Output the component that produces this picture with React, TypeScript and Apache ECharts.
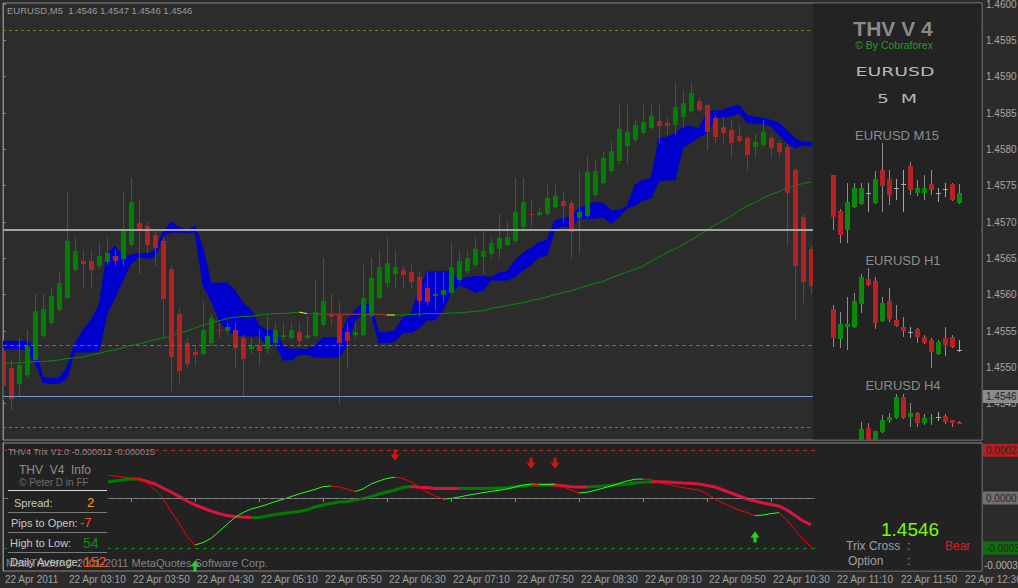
import React, { useEffect, useRef } from "react";
import * as echarts from "echarts";

// ---------------- DATA ----------------
const timeLabels = [
  "22 Apr 2011", "22 Apr 03:10", "22 Apr 03:50", "22 Apr 04:30", "22 Apr 05:10", "22 Apr 05:50",
  "22 Apr 06:30", "22 Apr 07:10", "22 Apr 07:50", "22 Apr 08:30", "22 Apr 09:10", "22 Apr 09:50",
  "22 Apr 10:30", "22 Apr 11:10", "22 Apr 11:50", "22 Apr 12:30",
];

// EURUSD M5 candles: [open, high, low, close]
const m5Candles: number[][] = [
  [1.45522, 1.45526, 1.45455, 1.45474], [1.45499, 1.4551, 1.45441, 1.45456], [1.45477, 1.4554, 1.45459, 1.45503],
  [1.45489, 1.45551, 1.45485, 1.4553], [1.4551, 1.45601, 1.45507, 1.45577], [1.45543, 1.45601, 1.4554, 1.4558],
  [1.45561, 1.4561, 1.45558, 1.45598], [1.45579, 1.45631, 1.45576, 1.45616], [1.45596, 1.45741, 1.45594, 1.45674],
  [1.45634, 1.4568, 1.45631, 1.4566], [1.45647, 1.4566, 1.45609, 1.45642], [1.45646, 1.4566, 1.45609, 1.45634],
  [1.45639, 1.45671, 1.45636, 1.45653], [1.45645, 1.4568, 1.45641, 1.45658], [1.45653, 1.45661, 1.45639, 1.45646],
  [1.45649, 1.45741, 1.45639, 1.45687], [1.45668, 1.4576, 1.45665, 1.45727], [1.45698, 1.4573, 1.45629, 1.45691],
  [1.45694, 1.457, 1.45658, 1.45669], [1.45682, 1.45689, 1.45639, 1.45664], [1.45674, 1.4568, 1.45541, 1.45594],
  [1.45635, 1.45639, 1.45468, 1.45514], [1.45574, 1.45581, 1.45479, 1.45495], [1.45534, 1.4554, 1.45499, 1.45504],
  [1.45521, 1.4553, 1.45503, 1.45517], [1.45518, 1.45591, 1.45515, 1.45551], [1.45533, 1.45574, 1.4553, 1.45568],
  [1.45551, 1.45561, 1.4554, 1.4555], [1.4555, 1.45561, 1.45544, 1.45555], [1.45552, 1.45561, 1.45499, 1.45526],
  [1.4554, 1.45544, 1.45459, 1.45511], [1.45525, 1.4554, 1.45519, 1.4553], [1.45529, 1.45551, 1.45503, 1.45523],
  [1.45525, 1.4557, 1.45519, 1.45543], [1.45533, 1.45561, 1.45528, 1.45551], [1.45542, 1.45561, 1.45537, 1.45544],
  [1.45541, 1.45561, 1.45537, 1.45552], [1.45548, 1.45561, 1.4553, 1.45536], [1.45541, 1.4557, 1.45537, 1.45545],
  [1.45543, 1.4562, 1.4554, 1.45576], [1.45558, 1.4565, 1.45555, 1.45591], [1.45574, 1.45601, 1.45558, 1.45569],
  [1.45574, 1.45591, 1.45449, 1.45534], [1.45548, 1.45561, 1.45499, 1.45536], [1.45544, 1.45561, 1.45539, 1.45548],
  [1.45545, 1.45641, 1.45543, 1.45595], [1.4557, 1.4565, 1.45568, 1.45623], [1.45595, 1.4566, 1.45592, 1.45638],
  [1.45616, 1.4568, 1.45609, 1.45643], [1.45628, 1.4566, 1.45609, 1.45638], [1.45634, 1.45641, 1.45609, 1.45627],
  [1.45631, 1.45641, 1.45609, 1.45618], [1.45625, 1.45631, 1.45569, 1.45591], [1.45609, 1.45631, 1.45585, 1.4559],
  [1.45598, 1.45631, 1.45579, 1.45601], [1.45599, 1.45631, 1.4559, 1.45607], [1.45602, 1.45671, 1.45599, 1.45638],
  [1.4562, 1.4566, 1.45617, 1.45646], [1.45632, 1.4566, 1.45629, 1.4565], [1.45641, 1.4568, 1.45638, 1.45663],
  [1.45652, 1.45689, 1.45629, 1.4566], [1.45656, 1.4568, 1.45649, 1.45671], [1.45663, 1.45711, 1.45649, 1.45678],
  [1.45669, 1.45701, 1.45667, 1.4568], [1.45674, 1.4576, 1.45671, 1.45714], [1.45693, 1.4576, 1.4569, 1.45727],
  [1.45711, 1.4573, 1.45693, 1.4571], [1.45709, 1.4572, 1.45707, 1.45714], [1.45711, 1.45751, 1.45708, 1.45733],
  [1.4572, 1.45751, 1.45718, 1.45736], [1.45729, 1.45741, 1.457, 1.45722], [1.45726, 1.4573, 1.45649, 1.45686],
  [1.45705, 1.4577, 1.45658, 1.45714], [1.45708, 1.45791, 1.45705, 1.45769], [1.45737, 1.45785, 1.45734, 1.4577],
  [1.45753, 1.45798, 1.45751, 1.45788], [1.4577, 1.45811, 1.45767, 1.45798], [1.45784, 1.45861, 1.4578, 1.45828],
  [1.45804, 1.45861, 1.4578, 1.45824], [1.45813, 1.4584, 1.4581, 1.45833], [1.45822, 1.45861, 1.4582, 1.45837],
  [1.45829, 1.45861, 1.45826, 1.45846], [1.45839, 1.45861, 1.45809, 1.45832], [1.45836, 1.45844, 1.4582, 1.45832],
  [1.45833, 1.45891, 1.4582, 1.45858], [1.45844, 1.4588, 1.45829, 1.45864], [1.45853, 1.45891, 1.4585, 1.45877],
  [1.45866, 1.45871, 1.45851, 1.45854], [1.45861, 1.45864, 1.45799, 1.45824], [1.45843, 1.45847, 1.45809, 1.45817],
  [1.45831, 1.45844, 1.45809, 1.45822], [1.45826, 1.4584, 1.45789, 1.45809], [1.45818, 1.45833, 1.45809, 1.45811],
  [1.45815, 1.45818, 1.4577, 1.45792], [1.45803, 1.45821, 1.45789, 1.4581], [1.45806, 1.4584, 1.45803, 1.45824],
  [1.45815, 1.4582, 1.45789, 1.45802], [1.45809, 1.45813, 1.45789, 1.45796], [1.45803, 1.45807, 1.45669, 1.4574],
  [1.45771, 1.45775, 1.45565, 1.45639], [1.45707, 1.45711, 1.45588, 1.45617], [1.45663, 1.45667, 1.45601, 1.45612],
];

// Ichimoku cloud edges (per bar)
const kumoUpper = [
  1.45536, 1.45536, 1.45536, 1.45536, 1.45528, 1.45486, 1.45485, 1.45485, 1.455, 1.45533,
  1.45551, 1.45565, 1.45585, 1.45656, 1.45667, 1.45653, 1.45654, 1.45657, 1.45656, 1.45661,
  1.45686, 1.457, 1.45693, 1.45689, 1.45694, 1.45664, 1.45616, 1.45616, 1.45616, 1.45606,
  1.45588, 1.45579, 1.45558, 1.45551, 1.45551, 1.4553, 1.45525, 1.45525, 1.45525, 1.4553,
  1.45541, 1.45541, 1.45541, 1.45565, 1.45579, 1.45588, 1.45585, 1.45548, 1.45548, 1.45551,
  1.45568, 1.45574, 1.45606, 1.45631, 1.45632, 1.45632, 1.45632, 1.4562, 1.45624, 1.45625,
  1.45625, 1.45624, 1.4563, 1.45632, 1.45647, 1.45657, 1.45664, 1.45672, 1.45675, 1.45702,
  1.45705, 1.45707, 1.45719, 1.45723, 1.45727, 1.45726, 1.45716, 1.45716, 1.45722, 1.45751,
  1.45758, 1.4576, 1.45815, 1.45817, 1.45821, 1.45831, 1.45831, 1.45829, 1.45851, 1.45853,
  1.45854, 1.45858, 1.45861, 1.45847, 1.45844, 1.45843, 1.4584, 1.45836, 1.45826, 1.45815,
  1.4581, 1.4581,
];
const kumoLower = [
  1.45526, 1.45526, 1.45526, 1.45523, 1.45507, 1.45479, 1.45478, 1.45478, 1.45485, 1.45521,
  1.45521, 1.45521, 1.45523, 1.45574, 1.45596, 1.4562, 1.45643, 1.45652, 1.4565, 1.45652,
  1.4568, 1.45686, 1.45686, 1.45685, 1.45686, 1.45613, 1.45592, 1.45565, 1.45551, 1.45545,
  1.45543, 1.45543, 1.45543, 1.4553, 1.45533, 1.4551, 1.4551, 1.45517, 1.45518, 1.45514,
  1.45514, 1.45514, 1.45514, 1.4553, 1.45565, 1.45572, 1.45574, 1.45534, 1.45534, 1.45536,
  1.45548, 1.45548, 1.45554, 1.45565, 1.45565, 1.45579, 1.45602, 1.45613, 1.45609, 1.45603,
  1.45606, 1.4562, 1.4562, 1.4562, 1.45624, 1.45634, 1.45641, 1.45652, 1.45654, 1.45691,
  1.45694, 1.45694, 1.45705, 1.45705, 1.45705, 1.45707, 1.45698, 1.45707, 1.45719, 1.45723,
  1.4573, 1.45733, 1.45756, 1.45758, 1.45758, 1.45803, 1.45809, 1.45817, 1.45822, 1.45844,
  1.45844, 1.45846, 1.4585, 1.45837, 1.45836, 1.45835, 1.45832, 1.4582, 1.45809, 1.45802,
  1.45806, 1.45804,
];

// Moving average
const maValues = [
  1.45506, 1.45506, 1.45506, 1.45507, 1.45508, 1.45508, 1.45509, 1.4551, 1.45512, 1.45513,
  1.45514, 1.45517, 1.45519, 1.45522, 1.45524, 1.45527, 1.4553, 1.45532, 1.45535, 1.45538,
  1.4554, 1.45543, 1.45547, 1.4555, 1.45554, 1.45558, 1.45561, 1.45564, 1.45567, 1.45569,
  1.4557, 1.4557, 1.45572, 1.45573, 1.45574, 1.45574, 1.45575, 1.45576, 1.45574, 1.45574,
  1.45573, 1.45573, 1.45573, 1.45573, 1.45573, 1.45573, 1.45573, 1.45573, 1.45572, 1.45572,
  1.45572, 1.45573, 1.45573, 1.45574, 1.45574, 1.45574, 1.45575, 1.45575, 1.45576, 1.45577,
  1.45578, 1.45581, 1.45583, 1.45585, 1.45587, 1.45589, 1.45592, 1.45594, 1.45597, 1.456,
  1.45603, 1.45605, 1.45609, 1.45612, 1.45616, 1.45618, 1.45623, 1.45627, 1.45631, 1.45635,
  1.45639, 1.45646, 1.45652, 1.45658, 1.45663, 1.45669, 1.45675, 1.45682, 1.45689, 1.45696,
  1.45702, 1.45708, 1.45716, 1.45722, 1.45727, 1.45733, 1.45738, 1.45742, 1.45747, 1.4575,
  1.45753, 1.45755,
];
const maRedRange = [38, 48];
const maYellowRanges = [[37, 38], [48, 49]];

// Horizontal levels on the price chart
const levelOlive = 1.45964;
const levelGray = 1.4569;
const levelPink = 1.4553;
const bidPrice = 1.4546;
const levelLow = 1.45417;

// THV4 Trix (values x 1e-6), starting at bar trixStart
const trixStart = 13;
const trixFastE6 = [
  115, 110, 105, 100, 95, 75, 40, 0, -68, -125,
  -193, -235, -223, -202, -168, -132, -97, -73, -55, -45,
  -32, -18, -7, 7, 20, 32, 43, 57, 60, 55,
  45, 32, 45, 70, 85, 98, 104, 98, 80, 55,
  29, 10, -5, -2, 5, 13, 20, 27, 33, 38,
  45, 55, 65, 69, 68, 68, 69, 58, 40, 25,
  29, 38, 49, 60, 73, 85, 94, 94, 93, 78,
  69, 60, 52, 45, 40, 20, -5, -25, -43, -60,
  -73, -88, -85, -78, -73, -110, -160, -205, -245,
];
const trixSlowE6 = [
  80, 85, 90, 95, 95, 83, 70, 50, 30, 8,
  -15, -35, -50, -65, -78, -88, -93, -95, -97, -97,
  -90, -83, -78, -73, -68, -58, -45, -35, -27, -20,
  -17, -10, -3, 7, 20, 30, 40, 52, 57, 54,
  52, 48, 47.6, 47.3, 47, 47, 47.2, 47.5, 48.5, 50,
  51.5, 56, 60, 65, 65, 65, 64.5, 61.5, 56.5, 55,
  54.8, 57.5, 60, 63.5, 66.5, 70, 75, 78.5, 81.5, 81,
  80, 77.5, 75, 73.5, 70, 62.5, 55, 40, 25, 10,
  -5, -15, -25, -32.5, -40, -60, -87.5, -115, -133,
];
const trixLevelHigh = 0.000239;
const trixLevelZero = 0;
const trixLevelLow = -0.00025;
const sellArrowBars = [49, 66, 69];
const sellArrowE6 = [215, 175, 175];
const buyArrowBars = [24, 94];
const buyArrowE6 = [-340, -195];

// Mini charts on the THV panel: [open, high, low, close]
const m15Candles: number[][] = [
  [1.45725, 1.45725, 1.4545, 1.45515], [1.45545, 1.45555, 1.45385, 1.45425], [1.4545, 1.45685, 1.45385, 1.4559],
  [1.45565, 1.45685, 1.4556, 1.4566], [1.4558, 1.45685, 1.45575, 1.4566], [1.45635, 1.45685, 1.4554, 1.45635],
  [1.45585, 1.45745, 1.4558, 1.45705], [1.4575, 1.45885, 1.4554, 1.4567], [1.45705, 1.4575, 1.45575, 1.45625],
  [1.4566, 1.45705, 1.456, 1.4566], [1.4568, 1.4575, 1.4554, 1.4568], [1.4577, 1.4579, 1.45625, 1.4565],
  [1.45635, 1.457, 1.4562, 1.4566], [1.45635, 1.45725, 1.456, 1.4566], [1.4568, 1.4575, 1.45625, 1.4565],
  [1.45635, 1.4566, 1.4559, 1.45635], [1.45655, 1.45685, 1.45615, 1.45655], [1.4568, 1.45685, 1.45595, 1.456],
  [1.45585, 1.4568, 1.4558, 1.45635],
];
const h1Candles: number[][] = [
  [1.4566, 1.457, 1.4528, 1.4537], [1.4536, 1.4563, 1.4527, 1.4551], [1.4548, 1.4578, 1.4525, 1.4551],
  [1.4548, 1.4582, 1.4547, 1.4574], [1.4571, 1.4601, 1.4562, 1.4598], [1.4596, 1.4607, 1.4589, 1.459],
  [1.4594, 1.4598, 1.4546, 1.4552], [1.4554, 1.4578, 1.4553, 1.4572], [1.4574, 1.4587, 1.4553, 1.4556],
  [1.4555, 1.457, 1.4548, 1.4549], [1.4548, 1.4558, 1.4538, 1.4544], [1.4543, 1.4548, 1.4537, 1.4543],
  [1.4546, 1.4547, 1.4532, 1.4538], [1.4538, 1.454, 1.4531, 1.4532], [1.4535, 1.4537, 1.4507, 1.4523],
  [1.4521, 1.4535, 1.452, 1.4533], [1.4537, 1.4548, 1.4519, 1.453], [1.4538, 1.454, 1.4527, 1.4528],
  [1.4525, 1.4535, 1.4523, 1.4525],
];
const h4FirstSlot = 4;
const h4Candles: number[][] = [
  [1.451, 1.4556, 1.45, 1.4542], [1.4544, 1.4554, 1.45, 1.451], [1.451, 1.4538, 1.45, 1.4538],
  [1.4536, 1.457, 1.4534, 1.456], [1.4558, 1.4574, 1.4554, 1.4566], [1.4564, 1.4612, 1.4562, 1.4606],
  [1.4606, 1.4612, 1.4562, 1.4564], [1.4566, 1.4594, 1.4546, 1.4574], [1.4574, 1.4576, 1.4546, 1.4554],
  [1.4554, 1.4572, 1.455, 1.4564], [1.4562, 1.4572, 1.455, 1.4564], [1.4566, 1.4576, 1.4558, 1.4566],
  [1.4568, 1.4572, 1.4552, 1.4556], [1.456, 1.456, 1.4546, 1.4554], [1.4556, 1.4558, 1.4552, 1.4553],
];

// ---------------- HELPERS ----------------
const FONT = "Liberation Sans";
const X_MAX = 122.375;

function candleRenderer(bodyW: number, wick: string, up: string, down: string, doji: string) {
  return (_params: any, api: any) => {
    const x = api.value(0);
    const o = api.value(1), h = api.value(2), l = api.value(3), c = api.value(4);
    const po = api.coord([x, o]);
    const pc = api.coord([x, c]);
    const ph = api.coord([x, h]);
    const pl = api.coord([x, l]);
    const cx = Math.round(po[0]);
    const top = Math.round(Math.min(po[1], pc[1]));
    const bot = Math.round(Math.max(po[1], pc[1]));
    const fill = o === c ? doji : c > o ? up : down;
    return {
      type: "group",
      children: [
        {
          type: "line",
          shape: { x1: cx + 0.5, y1: Math.round(ph[1]), x2: cx + 0.5, y2: Math.round(pl[1]) },
          style: { stroke: o === c ? doji : wick, lineWidth: 1 },
        },
        {
          type: "rect",
          shape: { x: cx - Math.floor(bodyW / 2), y: top, width: bodyW, height: Math.max(1, bot - top) },
          style: { fill },
        },
      ],
    };
  };
}

function splitByDirection(vals: number[], start: number) {
  const up: any[] = [];
  const dn: any[] = [];
  for (let k = 0; k < vals.length; k++) {
    const prevUp = k > 0 ? vals[k] >= vals[k - 1] : null;
    const nextUp = k < vals.length - 1 ? vals[k + 1] >= vals[k] : null;
    const v = vals[k] * 1e-6;
    up.push([start + k, prevUp === true || nextUp === true ? v : "-"]);
    dn.push([start + k, prevUp === false || nextUp === false ? v : "-"]);
  }
  return { up, dn };
}

function txt(text: string, x: number, y: number, size: number, fill: string, extra: any = {}) {
  const { align = "left", weight = "normal", family = FONT, z = 120, scaleX = 1 } = extra;
  return {
    type: "text",
    x,
    y,
    scaleX,
    z,
    silent: true,
    style: { text, fill, fontSize: size, fontFamily: family, fontWeight: weight, align, verticalAlign: "middle" },
  };
}

function hline(x1: number, x2: number, y: number, stroke: string) {
  return { type: "line", z: 115, silent: true, shape: { x1, y1: y, x2, y2: y }, style: { stroke, lineWidth: 1 } };
}

function buildOption() {
  const cloudData = kumoUpper.slice(0, -1).map((u, i) => [i, u, kumoLower[i], kumoUpper[i + 1], kumoLower[i + 1]]);
  const m5Data = m5Candles.map((c, i) => [i, c[0], c[1], c[2], c[3]]);
  const fast = splitByDirection(trixFastE6, trixStart);
  const slow = splitByDirection(trixSlowE6, trixStart);
  const inRange = (i: number, r: number[]) => i >= r[0] && i <= r[1];

  const priceLevelLine = (value: number, color: string, type: any, width = 1) => ({
    yAxis: value,
    lineStyle: { color, type, width },
    label: { show: false },
  });

  const indLevel = (value: number, color: string, text: string, bg: string) => ({
    yAxis: value,
    lineStyle: { color, type: [4, 4], width: 1 },
    label: {
      show: true,
      position: "end",
      formatter: text,
      distance: 1,
      color: "#262626",
      backgroundColor: bg,
      padding: [2, 3, 1, 3],
      fontSize: 10,
      fontFamily: FONT,
    },
  });

  const miniSeries = (data: number[][], idx: number, offset: number) => ({
    type: "custom",
    xAxisIndex: idx,
    yAxisIndex: idx,
    clip: true,
    silent: true,
    z: 110,
    encode: { x: 0, y: [1, 2, 3, 4] },
    data: data.map((c, j) => [j + offset, c[0], c[1], c[2], c[3]]),
    renderItem: candleRenderer(5, "#8c8c8c", "#0a8a0a", "#b82222", "#a8a8a8"),
  });

  const hiddenX = (gi: number, min: number, max: number) => ({
    type: "value", gridIndex: gi, min, max, show: false, splitLine: { show: false },
  });
  const hiddenY = (gi: number, min: number, max: number) => ({
    type: "value", gridIndex: gi, min, max, show: false, splitLine: { show: false },
  });

  return {
    animation: false,
    backgroundColor: "#2b2b2b",
    textStyle: { fontFamily: FONT },
    grid: [
      { left: 3, top: 3, width: 979, height: 437, show: true, backgroundColor: "#2c2c2c", borderColor: "#8a8a8a", borderWidth: 1, outerBoundsMode: "none" },
      { left: 3, top: 443, width: 979, height: 128, show: true, backgroundColor: "#222222", borderColor: "#8a8a8a", borderWidth: 1, outerBoundsMode: "none" },
      { left: 829.5, top: 140, width: 133, height: 110, show: false, outerBoundsMode: "none" },
      { left: 829.5, top: 265, width: 133, height: 110, show: false, outerBoundsMode: "none" },
      { left: 829.5, top: 390, width: 133, height: 50, show: false, outerBoundsMode: "none" },
    ],
    xAxis: [
      hiddenX(0, 0, X_MAX),
      {
        type: "value",
        gridIndex: 1,
        min: 0,
        max: X_MAX,
        interval: 8,
        axisLine: { show: true, lineStyle: { color: "#8a8a8a" } },
        axisTick: { show: true, length: 4, lineStyle: { color: "#8a8a8a" } },
        splitLine: { show: false },
        axisLabel: {
          show: true,
          align: "left",
          margin: 3,
          padding: [0, 0, 0, 2],
          color: "#a0a0a0",
          fontSize: 10,
          fontFamily: FONT,
          showMaxLabel: false,
          formatter: (v: number) => {
            const k = v / 8;
            return Number.isInteger(k) && timeLabels[k] ? timeLabels[k] : "";
          },
        },
      },
      hiddenX(2, -0.5, 18.5),
      hiddenX(3, -0.5, 18.5),
      hiddenX(4, -0.5, 18.5),
    ],
    yAxis: [
      {
        type: "value",
        gridIndex: 0,
        position: "right",
        min: 1.454,
        max: 1.460014,
        interval: 0.0005,
        axisLine: { show: true, lineStyle: { color: "#8a8a8a" } },
        axisTick: { show: true, length: 3, lineStyle: { color: "#8a8a8a" } },
        splitLine: { show: false },
        axisLabel: {
          show: true,
          margin: 4,
          color: "#a6a6a6",
          fontSize: 10,
          fontFamily: FONT,
          showMinLabel: false,
          showMaxLabel: false,
          formatter: (v: number) => v.toFixed(4),
        },
      },
      {
        type: "value",
        gridIndex: 1,
        position: "right",
        min: -0.000365,
        max: 0.000275,
        axisLine: { show: true, lineStyle: { color: "#8a8a8a" } },
        axisTick: { show: false },
        axisLabel: { show: false },
        splitLine: { show: false },
      },
      hiddenY(2, 1.4535, 1.459),
      hiddenY(3, 1.45, 1.461),
      hiddenY(4, 1.452, 1.462),
    ],
    series: [
      {
        type: "custom",
        xAxisIndex: 0,
        yAxisIndex: 0,
        clip: true,
        silent: true,
        z: 2,
        encode: { x: 0, y: [1, 2, 3, 4] },
        data: cloudData,
        renderItem: (_p: any, api: any) => {
          const i = api.value(0);
          const a = api.coord([i, api.value(1)]);
          const b = api.coord([i + 1, api.value(3)]);
          const c = api.coord([i + 1, api.value(4)]);
          const d = api.coord([i, api.value(2)]);
          return {
            type: "polygon",
            shape: { points: [a, b, c, d] },
            style: { fill: "#0000cd", stroke: "#0000cd", lineWidth: 0.8 },
          };
        },
      },
      {
        type: "line",
        xAxisIndex: 0,
        yAxisIndex: 0,
        z: 3,
        silent: true,
        symbol: "none",
        data: maValues.map((v, i) => [i, v]),
        lineStyle: { color: "#0a8a0a", width: 1 },
        markLine: {
          silent: true,
          precision: 6,
          symbol: ["none", "none"],
          data: [
            priceLevelLine(levelOlive, "#7a7a00", [3, 3]),
            priceLevelLine(levelGray, "#a4a4a4", "solid", 2),
            priceLevelLine(levelPink, "#c23a86", [4, 3]),
            {
              yAxis: bidPrice,
              lineStyle: { color: "#6a98d2", type: "solid", width: 1 },
              label: {
                show: true,
                position: "end",
                formatter: bidPrice.toFixed(4),
                distance: 1,
                color: "#262626",
                backgroundColor: "#8c8c8c",
                padding: [2, 4, 1, 3],
                fontSize: 10,
                fontFamily: FONT,
              },
            },
            priceLevelLine(levelLow, "#6e6e6e", [3, 3]),
          ],
        },
      },
      {
        type: "line",
        xAxisIndex: 0,
        yAxisIndex: 0,
        z: 3,
        silent: true,
        symbol: "none",
        data: maValues.map((v, i) => [i, inRange(i, maRedRange) ? v : "-"]),
        lineStyle: { color: "#b42828", width: 1 },
      },
      {
        type: "line",
        xAxisIndex: 0,
        yAxisIndex: 0,
        z: 3,
        silent: true,
        symbol: "none",
        data: maValues.map((v, i) => [i, maYellowRanges.some((r) => inRange(i, r)) ? v : "-"]),
        lineStyle: { color: "#e6e632", width: 1 },
      },
      {
        type: "custom",
        xAxisIndex: 0,
        yAxisIndex: 0,
        clip: true,
        silent: true,
        z: 4,
        encode: { x: 0, y: [1, 2, 3, 4] },
        data: m5Data,
        renderItem: candleRenderer(5, "#57521c", "#008000", "#b22222", "#b22222"),
      },
      // Trix slow (thick)
      {
        type: "line", xAxisIndex: 1, yAxisIndex: 1, silent: true, symbol: "none", z: 3,
        data: slow.up, lineStyle: { color: "#007a00", width: 3 },
      },
      {
        type: "line", xAxisIndex: 1, yAxisIndex: 1, silent: true, symbol: "none", z: 3,
        data: slow.dn, lineStyle: { color: "#dc143c", width: 3 },
      },
      // Trix fast (thin)
      {
        type: "line", xAxisIndex: 1, yAxisIndex: 1, silent: true, symbol: "none", z: 4,
        data: fast.up, lineStyle: { color: "#22ff22", width: 1 },
      },
      {
        type: "line", xAxisIndex: 1, yAxisIndex: 1, silent: true, symbol: "none", z: 4,
        data: fast.dn, lineStyle: { color: "#ff0000", width: 1 },
        markLine: {
          silent: true,
          precision: 8,
          symbol: ["none", "none"],
          data: [
            indLevel(trixLevelHigh, "#b82828", "0.000239", "#b41e1e"),
            indLevel(trixLevelZero, "#707070", "0.0000", "#707070"),
            indLevel(trixLevelLow, "#168a16", "-0.00031", "#0b6f0b"),
          ],
        },
      },
      {
        type: "scatter", xAxisIndex: 1, yAxisIndex: 1, silent: true, z: 5,
        symbol: "path://M3,0 L6,0 L6,5 L9,5 L4.5,11 L0,5 L3,5 Z",
        symbolSize: [9, 11],
        itemStyle: { color: "#ff1010" },
        data: sellArrowBars.map((b, i) => [b, sellArrowE6[i] * 1e-6]),
      },
      {
        type: "scatter", xAxisIndex: 1, yAxisIndex: 1, silent: true, z: 5,
        symbol: "path://M4.5,0 L9,6 L6,6 L6,11 L3,11 L3,6 L0,6 Z",
        symbolSize: [9, 11],
        itemStyle: { color: "#22ff22" },
        data: buyArrowBars.map((b, i) => [b, buyArrowE6[i] * 1e-6]),
      },
      miniSeries(m15Candles, 2, 0),
      miniSeries(h1Candles, 3, 0),
      miniSeries(h4Candles, 4, h4FirstSlot),
    ],
    graphic: [
      // THV panel on the right of the price chart
      { type: "rect", z: 100, silent: true, shape: { x: 813, y: 3.5, width: 168.5, height: 436 }, style: { fill: "#232323" } },
      txt("THV V 4", 893, 28, 21, "#8a8a8a", { align: "center", weight: "bold", z: 110 }),
      txt("\u00a9 By Cobraforex", 894, 45, 10.5, "#2a9a2a", { align: "center", z: 110 }),
      txt("EURUSD", 895, 72, 13, "#b8b8b8", { align: "center", family: "DejaVu Sans", scaleX: 1.45, z: 110 }),
      txt("5  M", 897, 99, 13, "#b8b8b8", { align: "center", family: "DejaVu Sans", scaleX: 1.45, z: 110 }),
      txt("EURUSD M15", 897, 135, 13, "#8c8c8c", { align: "center", z: 110 }),
      txt("EURUSD H1", 903, 260, 13, "#8c8c8c", { align: "center", z: 110 }),
      txt("EURUSD H4", 903, 385, 13, "#8c8c8c", { align: "center", z: 110 }),
      // cover of the indicator window's right part (info area)
      { type: "rect", z: 100, silent: true, shape: { x: 815, y: 444, width: 166.5, height: 126.5 }, style: { fill: "#222222" } },
      // chart header
      txt("EURUSD,M5  1.4546 1.4547 1.4546 1.4546", 7, 10, 9.5, "#9a9a9a"),
      txt("THV4 Trix V1.0 -0.000012 -0.000015", 8, 452, 9, "#8a8a8a"),
      // info panel
      { type: "rect", z: 100, silent: true, shape: { x: 8, y: 460, width: 100, height: 110 }, style: { fill: "#222222" } },
      txt("THV  V4  Info", 19, 470, 12, "#909090"),
      txt("\u00a9 Peter D in FF", 19, 482, 10, "#6e6e6e"),
      hline(8, 107, 490.5, "#d8d8d8"),
      txt("Spread:", 14, 503, 11, "#c8c8c8"),
      txt("2", 87, 502, 13, "#ffa500"),
      hline(8, 107, 512.5, "#7a7a7a"),
      txt("Pips to Open:", 11, 523, 11, "#c8c8c8"),
      txt("-7", 80, 522, 13, "#ff4a14"),
      hline(8, 107, 532.5, "#7a7a7a"),
      txt("High to Low:", 10, 543, 11, "#c8c8c8"),
      txt("54", 83, 543, 14, "#138a13"),
      hline(8, 107, 552.5, "#7a7a7a"),
      txt("MetaTrader \u00a9 2001-2011 MetaQuotes Software Corp.", 6, 563, 11, "#858585", { z: 118 }),
      txt("Daily Average:", 10, 562, 11, "#c8c8c8"),
      txt("152", 83, 562, 14, "#ff4a14"),
      // bottom right info
      txt("1.4546", 881, 529, 19, "#7cfc00"),
      txt("Trix Cross", 846, 546, 12, "#a0a0a0"),
      txt(":", 907, 546, 12, "#a0a0a0"),
      txt("Bear", 945, 546, 12, "#e81818"),
      txt("Option", 848, 561, 12, "#a0a0a0"),
      txt(":", 907, 561, 12, "#a0a0a0"),
      txt("-0.00036", 984, 565, 10, "#b0b0b0"),
    ],
  };
}

export default function App() {
  const ref = useRef<HTMLDivElement>(null);
  useEffect(() => {
    document.body.style.margin = "0";
    document.body.style.background = "#2b2b2b";
    const chart = echarts.init(ref.current as HTMLDivElement, undefined, { renderer: "svg" });
    chart.setOption(buildOption() as any);
    return () => chart.dispose();
  }, []);
  return <div ref={ref} style={{ width: 1018, height: 588 }} />;
}
